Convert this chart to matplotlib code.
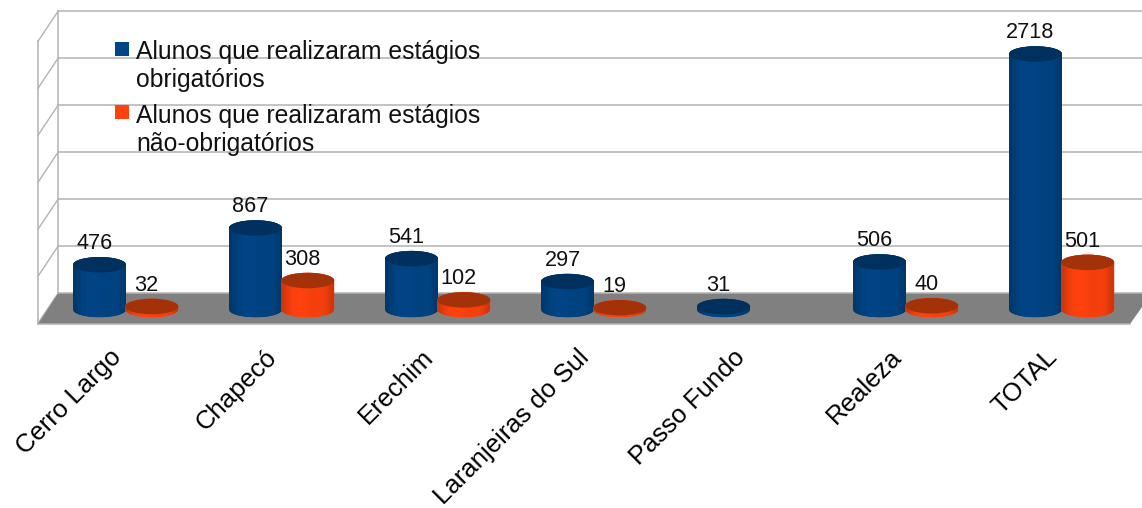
import numpy as np
import matplotlib
matplotlib.use("Agg")
import matplotlib.pyplot as plt
from matplotlib.patches import Ellipse, Polygon, PathPatch, Rectangle
from matplotlib.path import Path
from matplotlib.transforms import Affine2D, blended_transform_factory

categories = ["Cerro Largo", "Chapecó", "Erechim", "Laranjeiras do Sul", "Passo Fundo", "Realeza", "TOTAL"]
obrigatorios = [476, 867, 541, 297, 31, 506, 2718]
nao_obrigatorios = [32, 308, 102, 19, None, 40, 501]
legend_labels = ["Alunos que realizaram estágios\nobrigatórios", "Alunos que realizaram estágios\nnão-obrigatórios"]
grid_values = [0, 500, 1000, 1500, 2000, 2500, 3000]

W, H = 1142, 508
plt.rcParams["font.family"] = ["Liberation Sans", "DejaVu Sans"]
FS_VAL = 15.6
FS_LEG = 17.8
FS_CAT = 18.5
fig = plt.figure(figsize=(W / 100, H / 100), dpi=100, facecolor="white")
# axes box in pixels: x 38..1142, y 11.5..324
L, R, T, B = 38.0, 1142.0, 11.5, 324.0
ax = fig.add_axes([L / W, 1 - B / H, (R - L) / W, (B - T) / H])
PX_CAT, X0 = 156.0, 126.0
PX_VAL = 47.0 / 500
Y0 = 309.5
xlim = ((L - X0) / PX_CAT, (R - X0) / PX_CAT)
ylim = ((Y0 - B) / PX_VAL, (Y0 - T) / PX_VAL)
px = Affine2D().scale(1, -1).translate(0, H)
GRID = "#b3b3b3"

# floor and walls
ax.add_patch(Polygon([(38, 324), (58, 293.6), (1142, 293.6), (1142, 307), (1130, 324)], closed=True,
                     fc="#808080", ec="none", transform=px, zorder=1, clip_on=False))
back = blended_transform_factory(px, ax.transData + Affine2D().translate(0, 16.2))
for v in grid_values:
    ax.plot([58, 1142], [v, v], color=GRID, lw=1.1, transform=back, zorder=0.5, clip_on=False)
    yb = 293.3 - v * PX_VAL
    ax.plot([58, 38], [yb, yb + 30], color=GRID, lw=1.0, transform=px, zorder=0.5, clip_on=False)
ax.plot([58, 58], [11, 294], color=GRID, lw=1.1, transform=px, zorder=0.6, clip_on=False)
ax.plot([38, 38], [41, 324], color=GRID, lw=1.1, transform=px, zorder=0.6, clip_on=False)
ax.plot([38, 1130], [324, 324], color=GRID, lw=1.1, transform=px, zorder=1.1, clip_on=False)

HW = 26.5 / PX_CAT
EH = 7.75 / PX_VAL
shade = np.array([0.80, 0.92, 0.98, 1.0, 1.0, 0.98, 0.95, 0.96, 0.97, 0.93, 0.80])

def cylinder(xc, v, body, top, z):
    c = np.array(matplotlib.colors.to_rgb(body))
    img = (shade[:, None] * c)[None, :, :]
    t = np.linspace(np.pi, 2 * np.pi, 40)
    low = np.c_[xc + HW * np.cos(t), EH * np.sin(t)]
    t2 = np.linspace(0, np.pi, 40)
    up = np.c_[xc + HW * np.cos(t2), v + EH * np.sin(t2)]
    verts = np.vstack([low, up, low[:1]])
    codes = [Path.MOVETO] + [Path.LINETO] * (len(verts) - 2) + [Path.CLOSEPOLY]
    patch = PathPatch(Path(verts, codes), fc=body, ec="none", transform=ax.transData, zorder=z)
    ax.add_patch(patch)
    im = ax.imshow(img, extent=[xc - HW, xc + HW, -EH, v + EH], aspect="auto",
                   interpolation="bicubic", zorder=z + 0.01)
    im.set_clip_path(patch)
    ax.add_patch(Ellipse((xc, v), 2 * HW, 2 * EH, fc=top, ec="none", zorder=z + 0.02))

def label(xc, v, dx):
    ax.annotate(str(v), (xc, v), xytext=(dx, 21.2), textcoords="offset pixels", ha="center",
                va="center", fontsize=FS_VAL, color="#111111", zorder=10, annotation_clip=False)

for i, (a, b) in enumerate(zip(obrigatorios, nao_obrigatorios)):
    cylinder(i - HW, a, "#004586", "#00305e", 3 + i)
    label(i - HW, a, -5)
    if b is not None:
        cylinder(i + HW - 0.005, b, "#ff420e", "#a33208", 3.5 + i)
        label(i + HW - 0.005, b, -5)

ax.set_xlim(xlim)
ax.set_ylim(ylim)
ax.set_xticks(range(len(categories)))
ax.set_xticklabels(categories, rotation=45, ha="right", va="top", rotation_mode="anchor", fontsize=FS_CAT)
ax.tick_params(axis="x", length=0, pad=15)
for t in ax.get_xticklabels():
    t.set_transform(t.get_transform() + Affine2D().translate(-17, 0))
ax.set_yticks([])
for s in ax.spines.values():
    s.set_visible(False)
ax.patch.set_visible(False)

# legend
for (lab, col, sy, ty) in zip(legend_labels, ["#004586", "#ff420e"], [42, 105], [58.5, 122.5]):
    ax.add_patch(Rectangle((115, sy), 14, 13.5, fc=col, ec="none", transform=px, zorder=20, clip_on=False))
    l1, l2 = lab.split("\n")
    ax.text(136, ty, l1, transform=px, fontsize=FS_LEG, va="baseline", ha="left", color="#111111", zorder=20)
    ax.text(136, ty + 28, l2, transform=px, fontsize=FS_LEG, va="baseline", ha="left", color="#111111", zorder=20)

fig.savefig("out.png", dpi=100, facecolor="white")
